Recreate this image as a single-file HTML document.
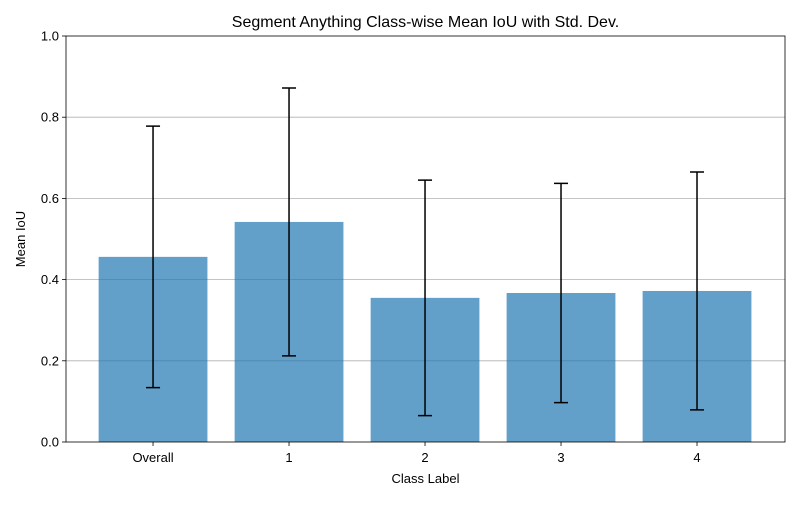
<!DOCTYPE html>
<html><head><meta charset="utf-8"><style>
body{margin:0;background:#fff;}
svg text{font-family:"Liberation Sans","DejaVu Sans",sans-serif;fill:#000;}
</style></head><body>
<svg id="chart" width="800" height="500" xmlns="http://www.w3.org/2000/svg">
<rect width="800" height="500" fill="#fff"/>
<g id="grid"></g><g id="bars"></g><g id="errs"></g><g id="axes"></g>
<text x="425.5" y="27" font-size="16" text-anchor="middle">Segment Anything Class-wise Mean IoU with Std. Dev.</text>
<text x="425.5" y="483" font-size="13" text-anchor="middle">Class Label</text>
<text x="25" y="239" font-size="13" text-anchor="middle" transform="rotate(-90 25 239)">Mean IoU</text>
</svg>
<script>
const categories=["Overall","1","2","3","4"];
const means=[0.456,0.542,0.355,0.367,0.372];
const stds=[0.322,0.330,0.290,0.270,0.293];
const yTicks=[0,0.2,0.4,0.6,0.8,1.0];
const yTickLabels=["0.0","0.2","0.4","0.6","0.8","1.0"];
const L=66,R=785,T=36,B=442;
const x0=-0.64,x1=4.647;
const xs=i=>L+(i-x0)/(x1-x0)*(R-L);
const ys=v=>B-v*(B-T);
const NS="http://www.w3.org/2000/svg";
function mk(parent,tag,attrs){const e=document.createElementNS(NS,tag);for(const k in attrs)e.setAttribute(k,attrs[k]);document.getElementById(parent).appendChild(e);return e;}
yTicks.forEach((t,i)=>{
  if(t>0&&t<1){const g=mk("grid","line",{x1:L,x2:R,y1:ys(t),y2:ys(t),stroke:"#b0b0b0","stroke-width":0.8});
  
  }
  const tk=mk("axes","line",{x1:L-4,x2:L,y1:ys(t),y2:ys(t),stroke:"#000","stroke-width":0.8});
  
  
  const lb=mk("axes","text",{x:L-7,y:ys(t)+4.5,"font-size":13,"text-anchor":"end"});
  lb.textContent=yTickLabels[i];
  
  
});
const bw=(xs(0.8)-xs(0));
categories.forEach((c,i)=>{
  const cx=xs(i);
  const b=mk("bars","rect",{x:cx-bw/2,y:ys(means[i]),width:bw,height:ys(0)-ys(means[i]),fill:"#1f77b4","fill-opacity":0.7});
  
  
  const hi=ys(means[i]+stds[i]),lo=ys(means[i]-stds[i]);
  const e=mk("errs","path",{d:`M${cx},${hi}V${lo}M${cx-7},${hi}H${cx+7}M${cx-7},${lo}H${cx+7}`,stroke:"#000","stroke-width":1.5,fill:"none"});
  
  
  const tk=mk("axes","line",{x1:cx,x2:cx,y1:B,y2:B+4,stroke:"#000","stroke-width":0.8});
  
  
  const lb=mk("axes","text",{x:cx,y:B+20,"font-size":13,"text-anchor":"middle"});
  lb.textContent=c;
  
  
});
const fr=mk("axes","rect",{x:L,y:T,width:R-L,height:B-T,fill:"none",stroke:"#000","stroke-width":0.8});


</script>
</body></html>
